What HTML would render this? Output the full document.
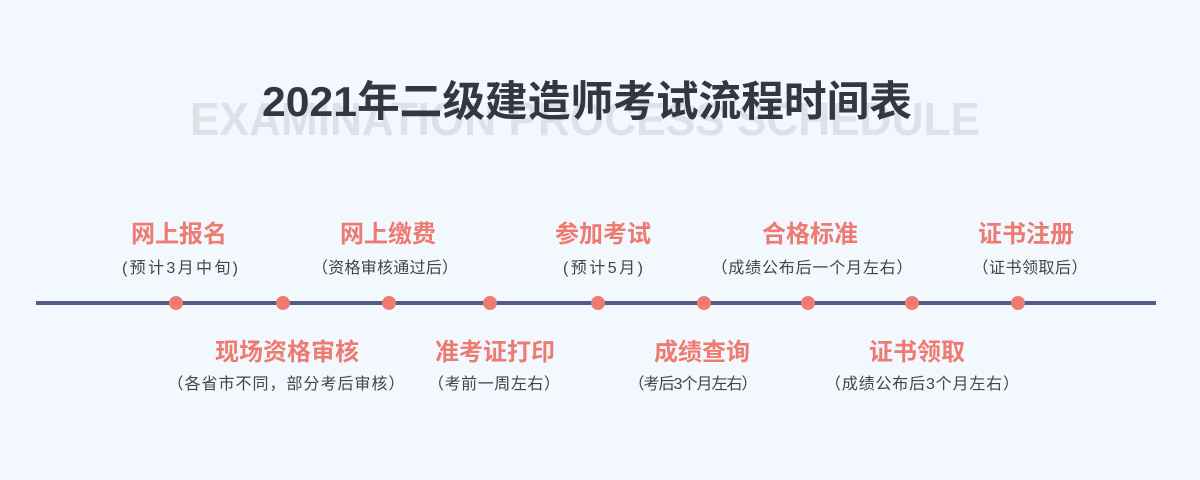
<!DOCTYPE html>
<html><head><meta charset="utf-8"><style>
html,body{margin:0;padding:0;background:#f3f8fe;}
svg{display:block}
</style></head><body>
<svg width="1200" height="480" xmlns="http://www.w3.org/2000/svg">
<rect width="1200" height="480" fill="#f3f8fe"/>
<text x="585" y="135" text-anchor="middle" font-family="Liberation Sans, sans-serif" font-weight="bold" font-size="46" fill="#dde1e8" textLength="790" lengthAdjust="spacingAndGlyphs">EXAMINATION PROCESS SCHEDULE</text>
<text x="587" y="116" text-anchor="middle" font-family="Liberation Sans, 'Noto Sans CJK SC', sans-serif" font-weight="bold" font-size="42" fill="#343640" textLength="650" lengthAdjust="spacingAndGlyphs">2021年二级建造师考试流程时间表</text>
<line x1="36" y1="303" x2="1156" y2="303" stroke="#535b8b" stroke-width="4"/>
<g fill="#ee7b71">
<circle cx="176" cy="303" r="7"/><circle cx="283" cy="303" r="7"/><circle cx="389" cy="303" r="7"/>
<circle cx="490" cy="303" r="7"/><circle cx="598" cy="303" r="7"/><circle cx="704" cy="303" r="7"/>
<circle cx="808" cy="303" r="7"/><circle cx="912" cy="303" r="7"/><circle cx="1018" cy="303" r="7"/>
</g>
<g font-family="Liberation Sans, 'Noto Sans CJK SC', sans-serif" font-weight="bold" font-size="24" fill="#ee7b71" text-anchor="middle">
<text x="179" y="242">网上报名</text>
<text x="388" y="242">网上缴费</text>
<text x="603" y="242">参加考试</text>
<text x="810" y="242">合格标准</text>
<text x="1026" y="242">证书注册</text>
<text x="287" y="360">现场资格审核</text>
<text x="495" y="360">准考证打印</text>
<text x="702" y="360">成绩查询</text>
<text x="917" y="360">证书领取</text>
</g>
<g font-family="Liberation Sans, 'Noto Sans CJK SC', sans-serif" font-size="16" fill="#444" text-anchor="middle" lengthAdjust="spacingAndGlyphs">
<text x="180" y="273" textLength="116">(预计3月中旬)</text>
<text x="385" y="273" textLength="146">（资格审核通过后）</text>
<text x="603" y="273" textLength="80">(预计5月)</text>
<text x="812" y="273" textLength="201">（成绩公布后一个月左右）</text>
<text x="1030" y="273" textLength="115">（证书领取后）</text>
<text x="286" y="389" textLength="237">（各省市不同，部分考后审核）</text>
<text x="494" y="389" textLength="132">（考前一周左右）</text>
<text x="693" y="389" textLength="129">（考后3个月左右）</text>
<text x="922" y="389" textLength="194">（成绩公布后3个月左右）</text>
</g>
</svg>
</body></html>
